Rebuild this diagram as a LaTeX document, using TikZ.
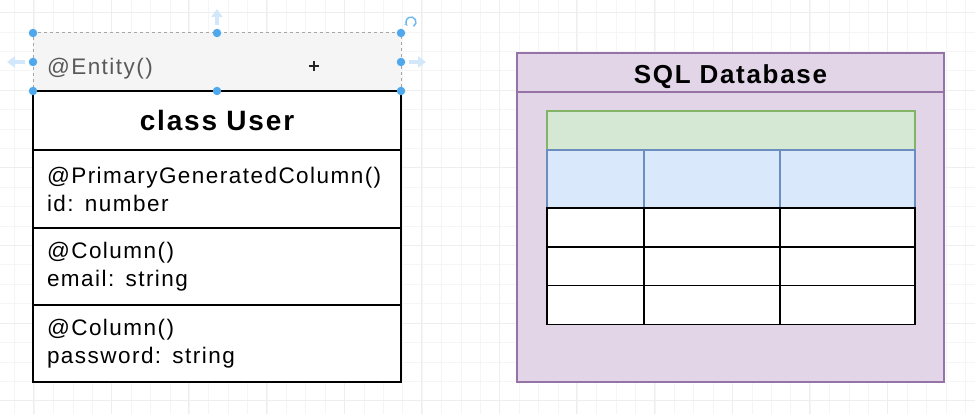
\documentclass[tikz,border=0pt]{standalone}
\usepackage{fontspec}
\setmainfont[LetterSpace=6.5]{Liberation Sans}
\usetikzlibrary{positioning, arrows.meta}
\definecolor{gridminor}{HTML}{F5F5F5}
\definecolor{gridmajor}{HTML}{EEEEEE}
\definecolor{entityfill}{HTML}{F5F5F5}
\definecolor{dbfill}{HTML}{E1D5E7}
\definecolor{dbline}{HTML}{9673A6}
\definecolor{headfill}{HTML}{D5E8D4}
\definecolor{headline}{HTML}{82B366}
\definecolor{keyfill}{HTML}{DAE8FC}
\definecolor{keyline}{HTML}{6C8EBF}
\definecolor{handleblue}{HTML}{4FA8EC}
\definecolor{arrowblue}{HTML}{D2E8FA}

\begin{document}
\begin{tikzpicture}[x=1pt, y=-1pt]
\tikzstyle{field}=[rectangle, draw=black, line width=1.4pt, fill=white, minimum width=368pt, text width=340pt, align=left, inner sep=0pt, outer sep=0pt, font=\fontsize{22.5}{28}\selectfont]
\tikzstyle{title}=[field, align=center, font=\bfseries\fontsize{28}{32}\selectfont]
\tikzstyle{cell}=[rectangle, draw=black, line width=1.4pt, fill=white, minimum height=39pt, inner sep=0pt, outer sep=0pt]
\tikzstyle{handle}=[circle, fill=handleblue, inner sep=0pt, minimum size=8.5pt]
\tikzstyle{grab}=[arrowblue, line width=3.5pt, -{Triangle[length=8pt, width=11pt]}]
\useasboundingbox (0,0) rectangle (975,414);
\fill[white] (0,0) rectangle (975,414);
% background grid
\foreach \i in {0,...,49} \draw[gridminor, line width=0.6pt] (14.6+19.4*\i,0) -- (14.6+19.4*\i,414);
\foreach \j in {0,...,21} \draw[gridminor, line width=0.6pt] (0,12.6+19.4*\j) -- (975,12.6+19.4*\j);
\foreach \i in {0,...,12} \draw[gridmajor, line width=0.6pt] (33.4+77.6*\i-77.6,0) -- (33.4+77.6*\i-77.6,414);
\foreach \j in {0,...,5} \draw[gridmajor, line width=0.6pt] (0,12.6+77.6*\j) -- (975,12.6+77.6*\j);

% entity class
\node[field, fill=entityfill, draw=gray!70, dashed, line width=1pt, minimum height=58pt, text=black!65, text height=26pt, text depth=0pt] (entity) at (217,62) {@Entity()};
\node[title, minimum height=59pt] (user) [below=0pt of entity] {class User};
\node[field, minimum height=78pt] (idcol) [below=0pt of user] {@PrimaryGeneratedColumn()\\id: number};
\node[field, minimum height=77pt] (emailcol) [below=0pt of idcol] {@Column()\\email: string};
\node[field, minimum height=77pt] (passcol) [below=0pt of emailcol] {@Column()\\password: string};
\draw[black, line width=1.4pt] (entity.south west) -- (entity.south east);

% selection handles
\foreach \a/\n in {north west/nw, north/n, north east/ne, west/w, east/e, south west/sw, south/s, south east/se}
  \node[handle] (h\n) at (entity.\a) {};
\draw[grab] ([yshift=8pt]hn.center) -- ([yshift=24pt]hn.center);
\draw[grab] ([xshift=-8pt]hw.center) -- ([xshift=-26pt]hw.center);
\draw[grab] ([xshift=8pt]he.center) -- ([xshift=25pt]he.center);
\coordinate (rot) at ([xshift=10pt, yshift=11pt]hne.center);
\draw[handleblue!80, line width=1.5pt, -{Stealth[length=3.5pt]}] ([xshift=2.5pt, yshift=-4.33pt]rot) arc[start angle=-60, end angle=230, radius=5pt];
\coordinate (cursor) at (314,66);
\draw[black!85, line width=1.4pt] ([xshift=-5pt]cursor) -- ([xshift=5pt]cursor);
\draw[black!85, line width=1.4pt] ([yshift=-5pt]cursor) -- ([yshift=5pt]cursor);

% database
\node[rectangle, draw=dbline, fill=dbfill, line width=1.5pt, minimum width=427pt, minimum height=329pt, inner sep=0pt, outer sep=0pt] (db) at (730.5,217.5) {};
\node[rectangle, draw=dbline, line width=1.5pt, minimum width=427pt, minimum height=39pt, inner sep=0pt, outer sep=0pt, anchor=north, text height=23pt, text depth=0pt, font=\bfseries\fontsize{26}{30}\selectfont] (dbhead) at (db.north) {SQL Database};
\node[cell, draw=headline, fill=headfill, minimum width=368pt] (tabhead) at (731,130.5) {};
\foreach \c/\x/\w in {1/595.5/97, 2/712/136, 3/847.5/135} {
  \node[cell, draw=keyline, fill=keyfill, minimum width=\w pt, minimum height=58pt] (key\c) at (\x,179) {};
  \foreach \r/\y in {1/227.5, 2/266.5, 3/305}
    \node[cell, minimum width=\w pt] (cell\r\c) at (\x,\y) {};
}
\end{tikzpicture}
\end{document}
